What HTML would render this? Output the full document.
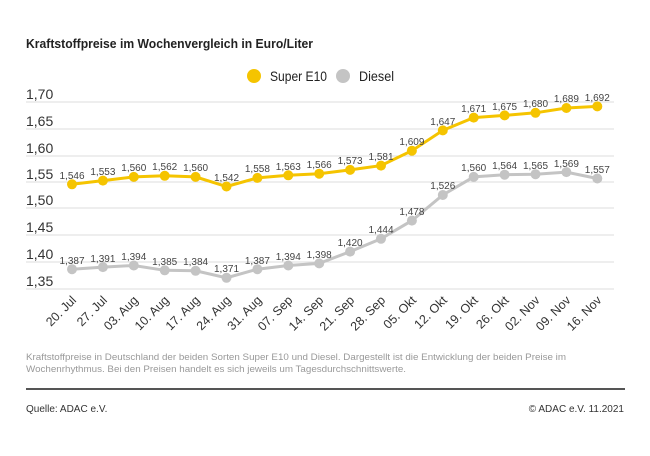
<!DOCTYPE html>
<html><head><meta charset="utf-8"><style>
body{margin:0;background:#fff;}
svg{display:block;font-family:"Liberation Sans",sans-serif;}
</style></head><body>
<svg width="650" height="456" viewBox="0 0 650 456" xmlns="http://www.w3.org/2000/svg">
<text x="26" y="48" font-size="13" font-weight="bold" fill="#222" textLength="287" lengthAdjust="spacingAndGlyphs">Kraftstoffpreise im Wochenvergleich in Euro/Liter</text>
<circle cx="254" cy="76" r="7" fill="#f5c400"/>
<text x="270" y="81" font-size="14" fill="#222" textLength="57" lengthAdjust="spacingAndGlyphs">Super E10</text>
<circle cx="343" cy="76" r="7" fill="#c4c4c4"/>
<text x="359" y="81" font-size="14" fill="#222" textLength="35" lengthAdjust="spacingAndGlyphs">Diesel</text>
<g stroke="#ddd" stroke-width="1">
<line x1="26" x2="614" y1="102" y2="102"/><line x1="26" x2="614" y1="129" y2="129"/>
<line x1="26" x2="614" y1="156" y2="156"/><line x1="26" x2="614" y1="182" y2="182"/>
<line x1="26" x2="614" y1="208" y2="208"/><line x1="26" x2="614" y1="235" y2="235"/>
<line x1="26" x2="614" y1="262" y2="262"/><line x1="26" x2="614" y1="289" y2="289"/>
</g>
<g font-size="14" fill="#333">
<text x="26" y="99">1,70</text><text x="26" y="126">1,65</text><text x="26" y="153">1,60</text>
<text x="26" y="179">1,55</text><text x="26" y="205">1,50</text><text x="26" y="232">1,45</text>
<text x="26" y="259">1,40</text><text x="26" y="286">1,35</text>
</g>
<polyline fill="none" stroke="#f5c400" stroke-width="3" points="72,184.3 102.9,180.6 133.8,176.9 164.7,175.8 195.6,176.9 226.5,186.5 257.4,177.9 288.3,175.3 319.2,173.7 350.1,169.9 381,165.6 411.9,150.7 442.8,130.4 473.7,117.6 504.6,115.4 535.5,112.8 566.4,108 597.3,106.4"/>
<polyline fill="none" stroke="#c4c4c4" stroke-width="3" points="72,269.2 102.9,267.1 133.8,265.5 164.7,270.3 195.6,270.8 226.5,277.8 257.4,269.2 288.3,265.5 319.2,263.4 350.1,251.6 381,238.8 411.9,220.6 442.8,195 473.7,176.9 504.6,174.7 535.5,174.2 566.4,172.1 597.3,178.5"/>
<g fill="#f5c400">
<circle cx="72" cy="184.3" r="5"/><circle cx="102.9" cy="180.6" r="5"/><circle cx="133.8" cy="176.9" r="5"/><circle cx="164.7" cy="175.8" r="5"/><circle cx="195.6" cy="176.9" r="5"/><circle cx="226.5" cy="186.5" r="5"/><circle cx="257.4" cy="177.9" r="5"/><circle cx="288.3" cy="175.3" r="5"/><circle cx="319.2" cy="173.7" r="5"/><circle cx="350.1" cy="169.9" r="5"/><circle cx="381" cy="165.6" r="5"/><circle cx="411.9" cy="150.7" r="5"/><circle cx="442.8" cy="130.4" r="5"/><circle cx="473.7" cy="117.6" r="5"/><circle cx="504.6" cy="115.4" r="5"/><circle cx="535.5" cy="112.8" r="5"/><circle cx="566.4" cy="108" r="5"/><circle cx="597.3" cy="106.4" r="5"/>
</g>
<g fill="#c4c4c4">
<circle cx="72" cy="269.2" r="5"/><circle cx="102.9" cy="267.1" r="5"/><circle cx="133.8" cy="265.5" r="5"/><circle cx="164.7" cy="270.3" r="5"/><circle cx="195.6" cy="270.8" r="5"/><circle cx="226.5" cy="277.8" r="5"/><circle cx="257.4" cy="269.2" r="5"/><circle cx="288.3" cy="265.5" r="5"/><circle cx="319.2" cy="263.4" r="5"/><circle cx="350.1" cy="251.6" r="5"/><circle cx="381" cy="238.8" r="5"/><circle cx="411.9" cy="220.6" r="5"/><circle cx="442.8" cy="195" r="5"/><circle cx="473.7" cy="176.9" r="5"/><circle cx="504.6" cy="174.7" r="5"/><circle cx="535.5" cy="174.2" r="5"/><circle cx="566.4" cy="172.1" r="5"/><circle cx="597.3" cy="178.5" r="5"/>
</g>
<g font-size="10" fill="#444" text-anchor="middle">
<text x="72" y="179">1,546</text><text x="102.9" y="175">1,553</text><text x="133.8" y="171">1,560</text><text x="164.7" y="170">1,562</text><text x="195.6" y="171">1,560</text><text x="226.5" y="181">1,542</text><text x="257.4" y="172">1,558</text><text x="288.3" y="170">1,563</text><text x="319.2" y="168">1,566</text><text x="350.1" y="164">1,573</text><text x="381" y="160">1,581</text><text x="411.9" y="145">1,609</text><text x="442.8" y="125">1,647</text><text x="473.7" y="112">1,671</text><text x="504.6" y="110">1,675</text><text x="535.5" y="107">1,680</text><text x="566.4" y="102">1,689</text><text x="597.3" y="101">1,692</text>
<text x="72" y="264">1,387</text><text x="102.9" y="262">1,391</text><text x="133.8" y="260">1,394</text><text x="164.7" y="265">1,385</text><text x="195.6" y="265">1,384</text><text x="226.5" y="272">1,371</text><text x="257.4" y="264">1,387</text><text x="288.3" y="260">1,394</text><text x="319.2" y="258">1,398</text><text x="350.1" y="246">1,420</text><text x="381" y="233">1,444</text><text x="411.9" y="215">1,478</text><text x="442.8" y="189">1,526</text><text x="473.7" y="171">1,560</text><text x="504.6" y="169">1,564</text><text x="535.5" y="169">1,565</text><text x="566.4" y="167">1,569</text><text x="597.3" y="173">1,557</text>
</g>
<g font-size="12.5" fill="#333" text-anchor="end">
<text transform="translate(77,301) rotate(-45)">20. Jul</text>
<text transform="translate(107.9,301) rotate(-45)">27. Jul</text>
<text transform="translate(138.8,301) rotate(-45)">03. Aug</text>
<text transform="translate(169.7,301) rotate(-45)">10. Aug</text>
<text transform="translate(200.6,301) rotate(-45)">17. Aug</text>
<text transform="translate(231.5,301) rotate(-45)">24. Aug</text>
<text transform="translate(262.4,301) rotate(-45)">31. Aug</text>
<text transform="translate(293.3,301) rotate(-45)">07. Sep</text>
<text transform="translate(324.2,301) rotate(-45)">14. Sep</text>
<text transform="translate(355.1,301) rotate(-45)">21. Sep</text>
<text transform="translate(386,301) rotate(-45)">28. Sep</text>
<text transform="translate(416.9,301) rotate(-45)">05. Okt</text>
<text transform="translate(447.8,301) rotate(-45)">12. Okt</text>
<text transform="translate(478.7,301) rotate(-45)">19. Okt</text>
<text transform="translate(509.6,301) rotate(-45)">26. Okt</text>
<text transform="translate(540.5,301) rotate(-45)">02. Nov</text>
<text transform="translate(571.4,301) rotate(-45)">09. Nov</text>
<text transform="translate(602.3,301) rotate(-45)">16. Nov</text>
</g>
<g font-size="9.5" fill="#999">
<text x="26" y="360" textLength="540" lengthAdjust="spacingAndGlyphs">Kraftstoffpreise in Deutschland der beiden Sorten Super E10 und Diesel. Dargestellt ist die Entwicklung der beiden Preise im</text>
<text x="26" y="372" textLength="380" lengthAdjust="spacingAndGlyphs">Wochenrhythmus. Bei den Preisen handelt es sich jeweils um Tagesdurchschnittswerte.</text>
</g>
<line x1="26" x2="625" y1="389" y2="389" stroke="#555" stroke-width="2"/>
<text x="26" y="412" font-size="10" fill="#333">Quelle: ADAC e.V.</text>
<text x="624" y="412" font-size="10" fill="#333" text-anchor="end">© ADAC e.V. 11.2021</text>
</svg>
</body></html>
